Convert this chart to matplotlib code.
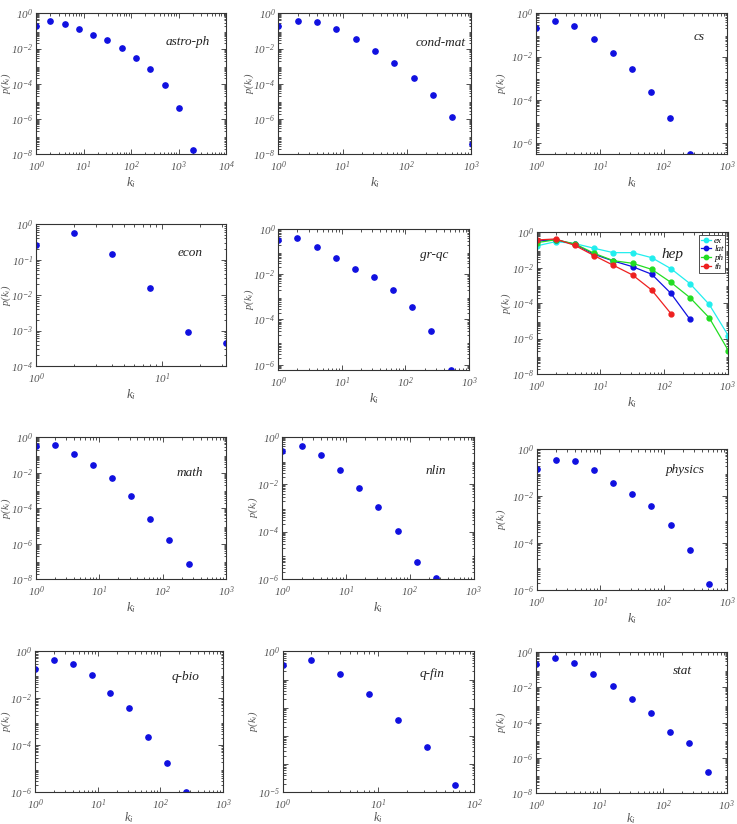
import numpy as np
import matplotlib
matplotlib.use("Agg")
import matplotlib.pyplot as plt
from matplotlib.ticker import FixedLocator, FuncFormatter, NullFormatter, LogLocator

plt.rcParams['font.family'] = 'Liberation Serif'
plt.rcParams['font.style'] = 'italic'
plt.rcParams['mathtext.fontset'] = 'custom'
plt.rcParams['mathtext.rm'] = 'Liberation Serif:italic'
plt.rcParams['mathtext.it'] = 'Liberation Serif:italic'

# degree bins (powers of two) and binned degree distributions
k_astro = [1, 2, 4, 8, 16, 32, 64, 128, 256, 512, 1024, 2048]
p_astro = [0.19, 0.37, 0.26, 0.124, 0.059, 0.031, 0.0113, 0.0031, 6.6e-4, 8.3e-5, 4.5e-6, 1.7e-8]

k_cond = [1, 2, 4, 8, 16, 32, 64, 128, 256, 512, 1024]
p_cond = [0.18, 0.38, 0.31, 0.135, 0.034, 0.0076, 0.00146, 2.15e-4, 2.3e-5, 1.26e-6, 3.7e-8]

k_cs = [1, 2, 4, 8, 16, 32, 64, 128, 256]
p_cs = [0.20, 0.46, 0.27, 0.066, 0.014, 0.0027, 2.3e-4, 1.5e-5, 3.2e-7]

k_econ = [1, 2, 4, 8, 16, 32]
p_econ = [0.267, 0.57, 0.148, 0.0159, 8.9e-4, 4.6e-4]

k_grqc = [1, 2, 4, 8, 16, 32, 64, 128, 256, 512]
p_grqc = [0.34, 0.39, 0.155, 0.051, 0.0166, 0.0076, 0.00204, 3.6e-4, 2.95e-5, 5.8e-7]

k_hep = [1, 2, 4, 8, 16, 32, 64, 128, 256, 512, 1024]
p_hep_ex = [0.17, 0.30, 0.23, 0.125, 0.071, 0.071, 0.037, 0.0089, 0.00126, 8.5e-5, 1.45e-6]
p_hep_lat = [0.32, 0.38, 0.21, 0.057, 0.024, 0.0115, 0.0043, 3.6e-4, 1.2e-5]
p_hep_ph = [0.26, 0.38, 0.22, 0.065, 0.025, 0.0178, 0.0081, 0.0015, 2.04e-4, 1.5e-5, 2.1e-7]
p_hep_th = [0.37, 0.42, 0.18, 0.048, 0.0137, 0.0039, 5.5e-4, 2.6e-5]
hep_names = ['ex', 'lat', 'ph', 'th']
hep_colors = ['#22eeee', '#1010e0', '#22dd22', '#ee2020']

k_math = [1, 2, 4, 8, 16, 32, 64, 128, 256]
p_math = [0.325, 0.355, 0.12, 0.0276, 0.0049, 4.9e-4, 2.6e-5, 1.58e-6, 7.3e-8]

k_nlin = [1, 2, 4, 8, 16, 32, 64, 128, 256]
p_nlin = [0.25, 0.40, 0.17, 0.038, 0.0069, 0.0011, 1.02e-4, 5.4e-6, 1.1e-6]

k_phys = [1, 2, 4, 8, 16, 32, 64, 128, 256, 512]
p_phys = [0.15, 0.36, 0.32, 0.131, 0.035, 0.0124, 0.0038, 5.7e-4, 5.0e-5, 1.74e-6]

k_qbio = [1, 2, 4, 8, 16, 32, 64, 128, 256]
p_qbio = [0.177, 0.43, 0.30, 0.095, 0.017, 0.004, 2.34e-4, 1.78e-5, 1.03e-6]

k_qfin = [1, 2, 4, 8, 16, 32, 64]
p_qfin = [0.337, 0.48, 0.157, 0.0316, 0.0038, 4.07e-4, 1.87e-5]

k_stat = [1, 2, 4, 8, 16, 32, 64, 128, 256, 512]
p_stat = [0.22, 0.455, 0.236, 0.059, 0.0117, 0.0022, 3.7e-4, 2.95e-5, 6.9e-6, 1.5e-7]

W, H = 737, 824
fig = plt.figure(figsize=(W / 100, H / 100), dpi=100)

BLUE = '#1010e0'
GRAY = '#555555'


def make_ax(px, xlim, ylim, yticks, xticks, ylab_dx, ylabels=None, xlab_dy=-21, xlab_fs=9.5):
    l, r, t, b = px
    ax = fig.add_axes([l / W, 1 - b / H, (r - l) / W, (b - t) / H])
    ax.set_xscale('log')
    ax.set_yscale('log')
    ax.set_xlim(*xlim)
    ax.set_ylim(*ylim)
    ax.xaxis.set_major_locator(FixedLocator(xticks))
    ax.yaxis.set_major_locator(FixedLocator(yticks))
    ax.xaxis.set_minor_locator(LogLocator(base=10, subs=np.arange(2, 10), numticks=20))
    ax.yaxis.set_minor_locator(LogLocator(base=10, subs=np.arange(2, 10), numticks=20))
    ax.xaxis.set_minor_formatter(NullFormatter())
    ax.yaxis.set_minor_formatter(NullFormatter())
    fmt = FuncFormatter(lambda v, pos: r'$10^{%d}$' % int(round(np.log10(v))))
    ax.xaxis.set_major_formatter(fmt)
    if ylabels is None:
        ax.yaxis.set_major_formatter(fmt)
    else:
        ax.yaxis.set_major_formatter(FuncFormatter(
            lambda v, pos: (r'$10^{%d}$' % int(round(np.log10(v))))
            if int(round(np.log10(v))) in ylabels else ''))
    ax.tick_params(which='both', direction='in', top=True, right=True,
                   labelsize=8, labelcolor=GRAY, color='#333333', width=0.6, pad=2)
    ax.tick_params(axis='x', which='major', pad=4)
    ax.tick_params(which='major', length=3.5)
    ax.tick_params(which='minor', length=1.8)
    for s in ax.spines.values():
        s.set_color('#333333')
        s.set_linewidth(0.8)
    # x label anchored by its top edge, y label by its centre
    ax.set_xlabel(r'$k_i$', fontsize=xlab_fs, color=GRAY)
    ax.xaxis.set_label_coords(0.5, xlab_dy / (b - t))
    ax.set_ylabel(r'$p(k_i)$', fontsize=7.5, color=GRAY, va='center')
    ax.yaxis.set_label_coords(ylab_dx / (r - l), 0.5)
    return ax


def dots(ax, k, p, name, tx, ty):
    ax.plot(k, p, 'o', color=BLUE, ms=3.8, mec=BLUE)
    ax.text(tx, ty, name, transform=ax.transAxes, fontsize=9.5, color='#222222',
            ha='center', va='center')


dec = [1e-8, 1e-6, 1e-4, 1e-2, 1]
dec6 = [1e-6, 1e-4, 1e-2, 1]
x3 = [1, 10, 100, 1000]

ax = make_ax((36, 226, 13.3, 154.3), (1, 1e4), (1e-8, 1), dec, [1, 10, 100, 1000, 1e4], -29.5)
dots(ax, k_astro, p_astro, 'astro-ph', 0.80, 0.80)

ax = make_ax((278.3, 471, 13.3, 154.3), (1, 1e3), (1e-8, 1), dec, x3, -29.5)
dots(ax, k_cond, p_cond, 'cond-mat', 0.84, 0.79)

ax = make_ax((536, 727.3, 13.3, 154), (1, 1e3), (min(p_cs), 1), dec6, x3, -35)
dots(ax, k_cs, p_cs, 'cs', 0.85, 0.83)

ax = make_ax((36, 226, 224.3, 366), (1, 32), (1e-4, 1), [1e-4, 1e-3, 1e-2, 1e-1, 1], [1, 10], -29.5)
dots(ax, k_econ, p_econ, 'econ', 0.81, 0.795)

ax = make_ax((278.3, 469, 229, 370), (1, 1e3), (min(p_grqc), 1), dec6, x3, -29.5)
dots(ax, k_grqc, p_grqc, 'gr-qc', 0.82, 0.815)

ax = make_ax((536.7, 727.7, 232.3, 374), (1, 1e3), (1e-8, 1), dec, x3, -30)
for p, n, c in zip([p_hep_ex, p_hep_lat, p_hep_ph, p_hep_th], hep_names, hep_colors):
    ax.plot(k_hep[:len(p)], p, '-o', color=c, ms=3.5, lw=0.9, label=n)
ax.text(0.71, 0.845, 'hep', transform=ax.transAxes, fontsize=11, color='#222222',
        ha='center', va='center')
leg = ax.legend(loc='upper right', fontsize=6.5, handlelength=1.2, handletextpad=0.3,
                borderpad=0.2, labelspacing=0.05, borderaxespad=0.25, fancybox=False,
                framealpha=1, markerscale=0.9)
leg.get_frame().set_edgecolor('#333333')
leg.get_frame().set_linewidth(0.6)

ax = make_ax((36, 226, 437.3, 579.3), (1, 1e3), (1e-8, 1), dec, x3, -29.5)
dots(ax, k_math, p_math, 'math', 0.81, 0.746)

ax = make_ax((282.3, 473.7, 436.7, 579), (1, 1e3), (1e-6, 1), dec6, x3, -29.5)
dots(ax, k_nlin, p_nlin, 'nlin', 0.80, 0.76)

ax = make_ax((536.7, 727.3, 449.3, 590), (1, 1e3), (1e-6, 1), dec6, x3, -35)
dots(ax, k_phys, p_phys, 'physics', 0.78, 0.85)

ax = make_ax((35, 223, 651.3, 792.3), (1, 1e3), (1e-6, 1), dec6, x3, -29,
             xlab_dy=-18, xlab_fs=9)
dots(ax, k_qbio, p_qbio, 'q-bio', 0.80, 0.82)

ax = make_ax((282.7, 474, 651.3, 792.3), (1, 100), (1e-5, 1),
             [1e-5, 1e-4, 1e-3, 1e-2, 1e-1, 1], [1, 10, 100], -29.5, ylabels=[0, -5],
             xlab_dy=-18, xlab_fs=9)
dots(ax, k_qfin, p_qfin, 'q-fin', 0.78, 0.84)

ax = make_ax((536, 726.7, 652.3, 793), (1, 1e3), (1e-8, 1), dec, x3, -35,
             xlab_dy=-18, xlab_fs=9)
dots(ax, k_stat, p_stat, 'stat', 0.77, 0.87)

fig.savefig('out.png', dpi=100)
